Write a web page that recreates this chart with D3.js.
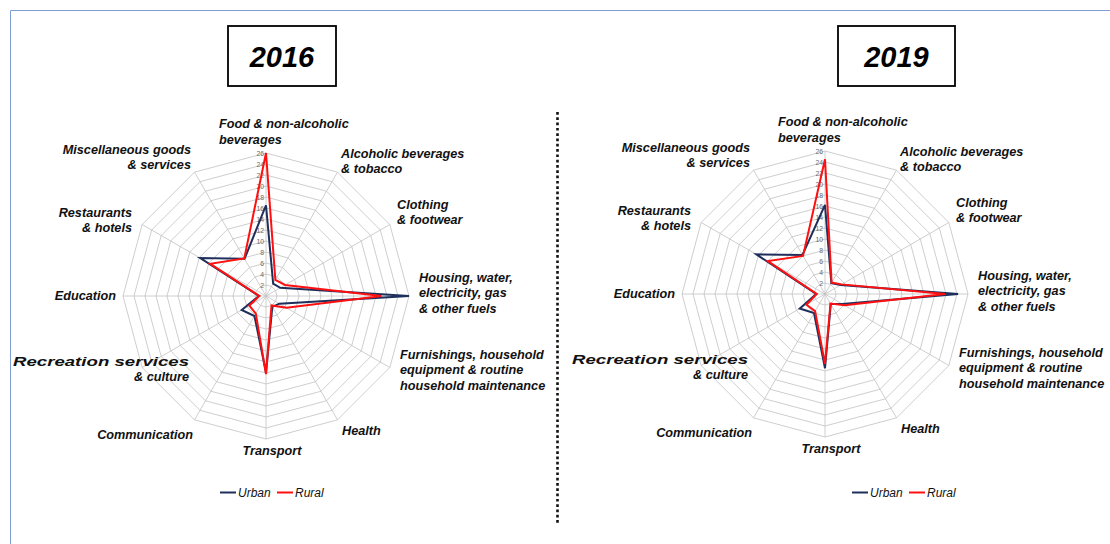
<!DOCTYPE html>
<html>
<head>
<meta charset="utf-8">
<script src="https://cdn.jsdelivr.net/npm/d3@7"></script>
<style>
  body { margin: 0; background: #fff; }
  svg { display: block; }
  .lbl { font-family: "Liberation Sans", Arial, sans-serif; font-weight: bold; font-style: italic; font-size: 12.7px; fill: #111; }
  .tick { font-family: "Liberation Sans", Arial, sans-serif; font-size: 6.8px; fill: #6b6b6b; }
  .year { font-family: "Liberation Sans", Arial, sans-serif; font-weight: bold; font-style: italic; font-size: 29px; fill: #000; }
  .leg { font-family: "Liberation Sans", Arial, sans-serif; font-style: italic; font-size: 12px; fill: #111; }
</style>
</head>
<body>
<svg id="chart" width="1110" height="544"></svg>
<script>
// categories, clockwise from the top
let categories = [
    ['Food & non-alcoholic', 'beverages'],
    ['Alcoholic beverages', '& tobacco'],
    ['Clothing', '& footwear'],
    ['Housing, water,', 'electricity, gas', '& other fuels'],
    ['Furnishings, household', 'equipment & routine', 'household maintenance'],
    ['Health'],
    ['Transport'],
    ['Communication'],
    ['Recreation services', '& culture'],
    ['Education'],
    ['Restaurants', '& hotels'],
    ['Miscellaneous goods', '& services']
];
let tickValues = [2, 4, 6, 8, 10, 12, 14, 16, 18, 20, 22, 24, 26];

let urban2016 = [16.5, 2.6, 3.0, 26.0, 2.8, 2.3, 13.9, 4.2, 5.1, 1.3, 13.8, 7.8];
let rural2016 = [26.0, 3.4, 4.0, 21.0, 4.3, 2.0, 14.2, 3.7, 3.5, 1.2, 11.7, 7.9];
let urban2019 = [16.2, 2.3, 3.3, 24.2, 3.6, 2.1, 13.5, 4.0, 5.3, 1.6, 14.4, 8.2];
let rural2019 = [24.5, 2.4, 3.5, 21.8, 4.1, 2.0, 12.7, 3.6, 3.9, 1.5, 12.0, 8.0];

let seriesNames = ['Urban', 'Rural'];
let colors = { Urban: '#1f2f5c', Rural: '#ff1010' };

// label placement relative to chart centre: dx, baseline dy, anchor
let labelPos = [
    [-47, -168, 'start'],
    [75, -138.5, 'start'],
    [131, -87.5, 'start'],
    [153, -14.5, 'start'],
    [134, 62.5, 'start'],
    [76, 138.5, 'start'],
    [6, 158.5, 'middle'],
    [-73, 142.5, 'end'],
    [-77, 69.5, 'end'],
    [-150, 3.5, 'end'],
    [-134, -79.5, 'end'],
    [-75, -142.5, 'end']
];

let svg = d3.select('#chart');

// outer frame (top and left edges visible)
svg.append('path')
    .attr('d', 'M10.5,544 L10.5,10.5 L1110,10.5')
    .attr('fill', 'none')
    .attr('stroke', '#7f9ed6')
    .attr('stroke-width', 1);

// dotted separator
svg.append('line')
    .attr('x1', 557.5).attr('x2', 557.5)
    .attr('y1', 112).attr('y2', 525)
    .attr('stroke', '#111')
    .attr('stroke-width', 2.6)
    .attr('stroke-dasharray', '2.7 2.6');

let r = d3.scaleLinear().domain([0, 26]).range([0, 143]);
let angle = d3.scalePoint().domain(d3.range(categories.length)).range([0, 2 * Math.PI * 11 / 12]);

function drawRadar(cx, cy, year, urban, rural, box, legendX) {
    let g = svg.append('g').attr('transform', `translate(${cx},${cy})`);
    let pt = (i, v) => [r(v) * Math.sin(angle(i)), -r(v) * Math.cos(angle(i))];

    // grid rings
    tickValues.forEach((t) => {
        g.append('path')
            .attr('d', d3.line()(categories.map((c, i) => pt(i, t))) + 'Z')
            .attr('fill', 'none')
            .attr('stroke', '#c2c2c2')
            .attr('stroke-width', 0.8);
    });
    // spokes
    categories.forEach((c, i) => {
        let p = pt(i, 26);
        g.append('line')
            .attr('x1', 0).attr('y1', 0)
            .attr('x2', p[0]).attr('y2', p[1])
            .attr('stroke', '#c2c2c2')
            .attr('stroke-width', 0.8);
    });
    // tick labels
    tickValues.forEach((t) => {
        g.append('text')
            .attr('class', 'tick')
            .attr('x', -2)
            .attr('y', -r(t) + 2.5)
            .attr('text-anchor', 'end')
            .text(t);
    });

    // series
    [[urban, 'Urban'], [rural, 'Rural']].forEach(([vals, name]) => {
        g.append('path')
            .attr('d', d3.line()(vals.map((v, i) => pt(i, v))) + 'Z')
            .attr('fill', 'none')
            .attr('stroke', colors[name])
            .attr('stroke-width', 2)
            .attr('stroke-linejoin', 'miter');
    });

    // category labels
    categories.forEach((lines, i) => {
        let [dx, dy, anchor] = labelPos[i];
        let t = g.append('text')
            .attr('class', 'lbl')
            .attr('text-anchor', anchor);
        lines.forEach((s, k) => {
            let ts = t.append('tspan').attr('x', dx).attr('y', dy + k * 15.5).text(s);
            // this line is drawn stretched wide in the original
            if (s === 'Recreation services') {
                ts.attr('textLength', 176).attr('lengthAdjust', 'spacingAndGlyphs');
            }
        });
    });

    // year box
    svg.append('rect')
        .attr('x', box[0]).attr('y', box[1])
        .attr('width', box[2]).attr('height', box[3])
        .attr('fill', 'none')
        .attr('stroke', '#000')
        .attr('stroke-width', 1.8);
    svg.append('text')
        .attr('class', 'year')
        .attr('x', box[0] + box[2] / 2)
        .attr('y', box[1] + box[3] / 2 + 10.5)
        .attr('text-anchor', 'middle')
        .text(year);

    // legend
    let lg = svg.append('g').attr('transform', `translate(${legendX},492.5)`);
    seriesNames.forEach((name, k) => {
        let x0 = k * 57;
        lg.append('line')
            .attr('x1', x0).attr('x2', x0 + 16)
            .attr('y1', 0).attr('y2', 0)
            .attr('stroke', colors[name])
            .attr('stroke-width', 2);
        lg.append('text')
            .attr('class', 'leg')
            .attr('x', x0 + 18)
            .attr('y', 4.3)
            .text(name);
    });
}

drawRadar(266, 296, '2016', urban2016, rural2016, [228, 26, 108, 60], 220);
drawRadar(825, 294, '2019', urban2019, rural2019, [838, 26, 117, 60], 852);
</script>
</body>
</html>
